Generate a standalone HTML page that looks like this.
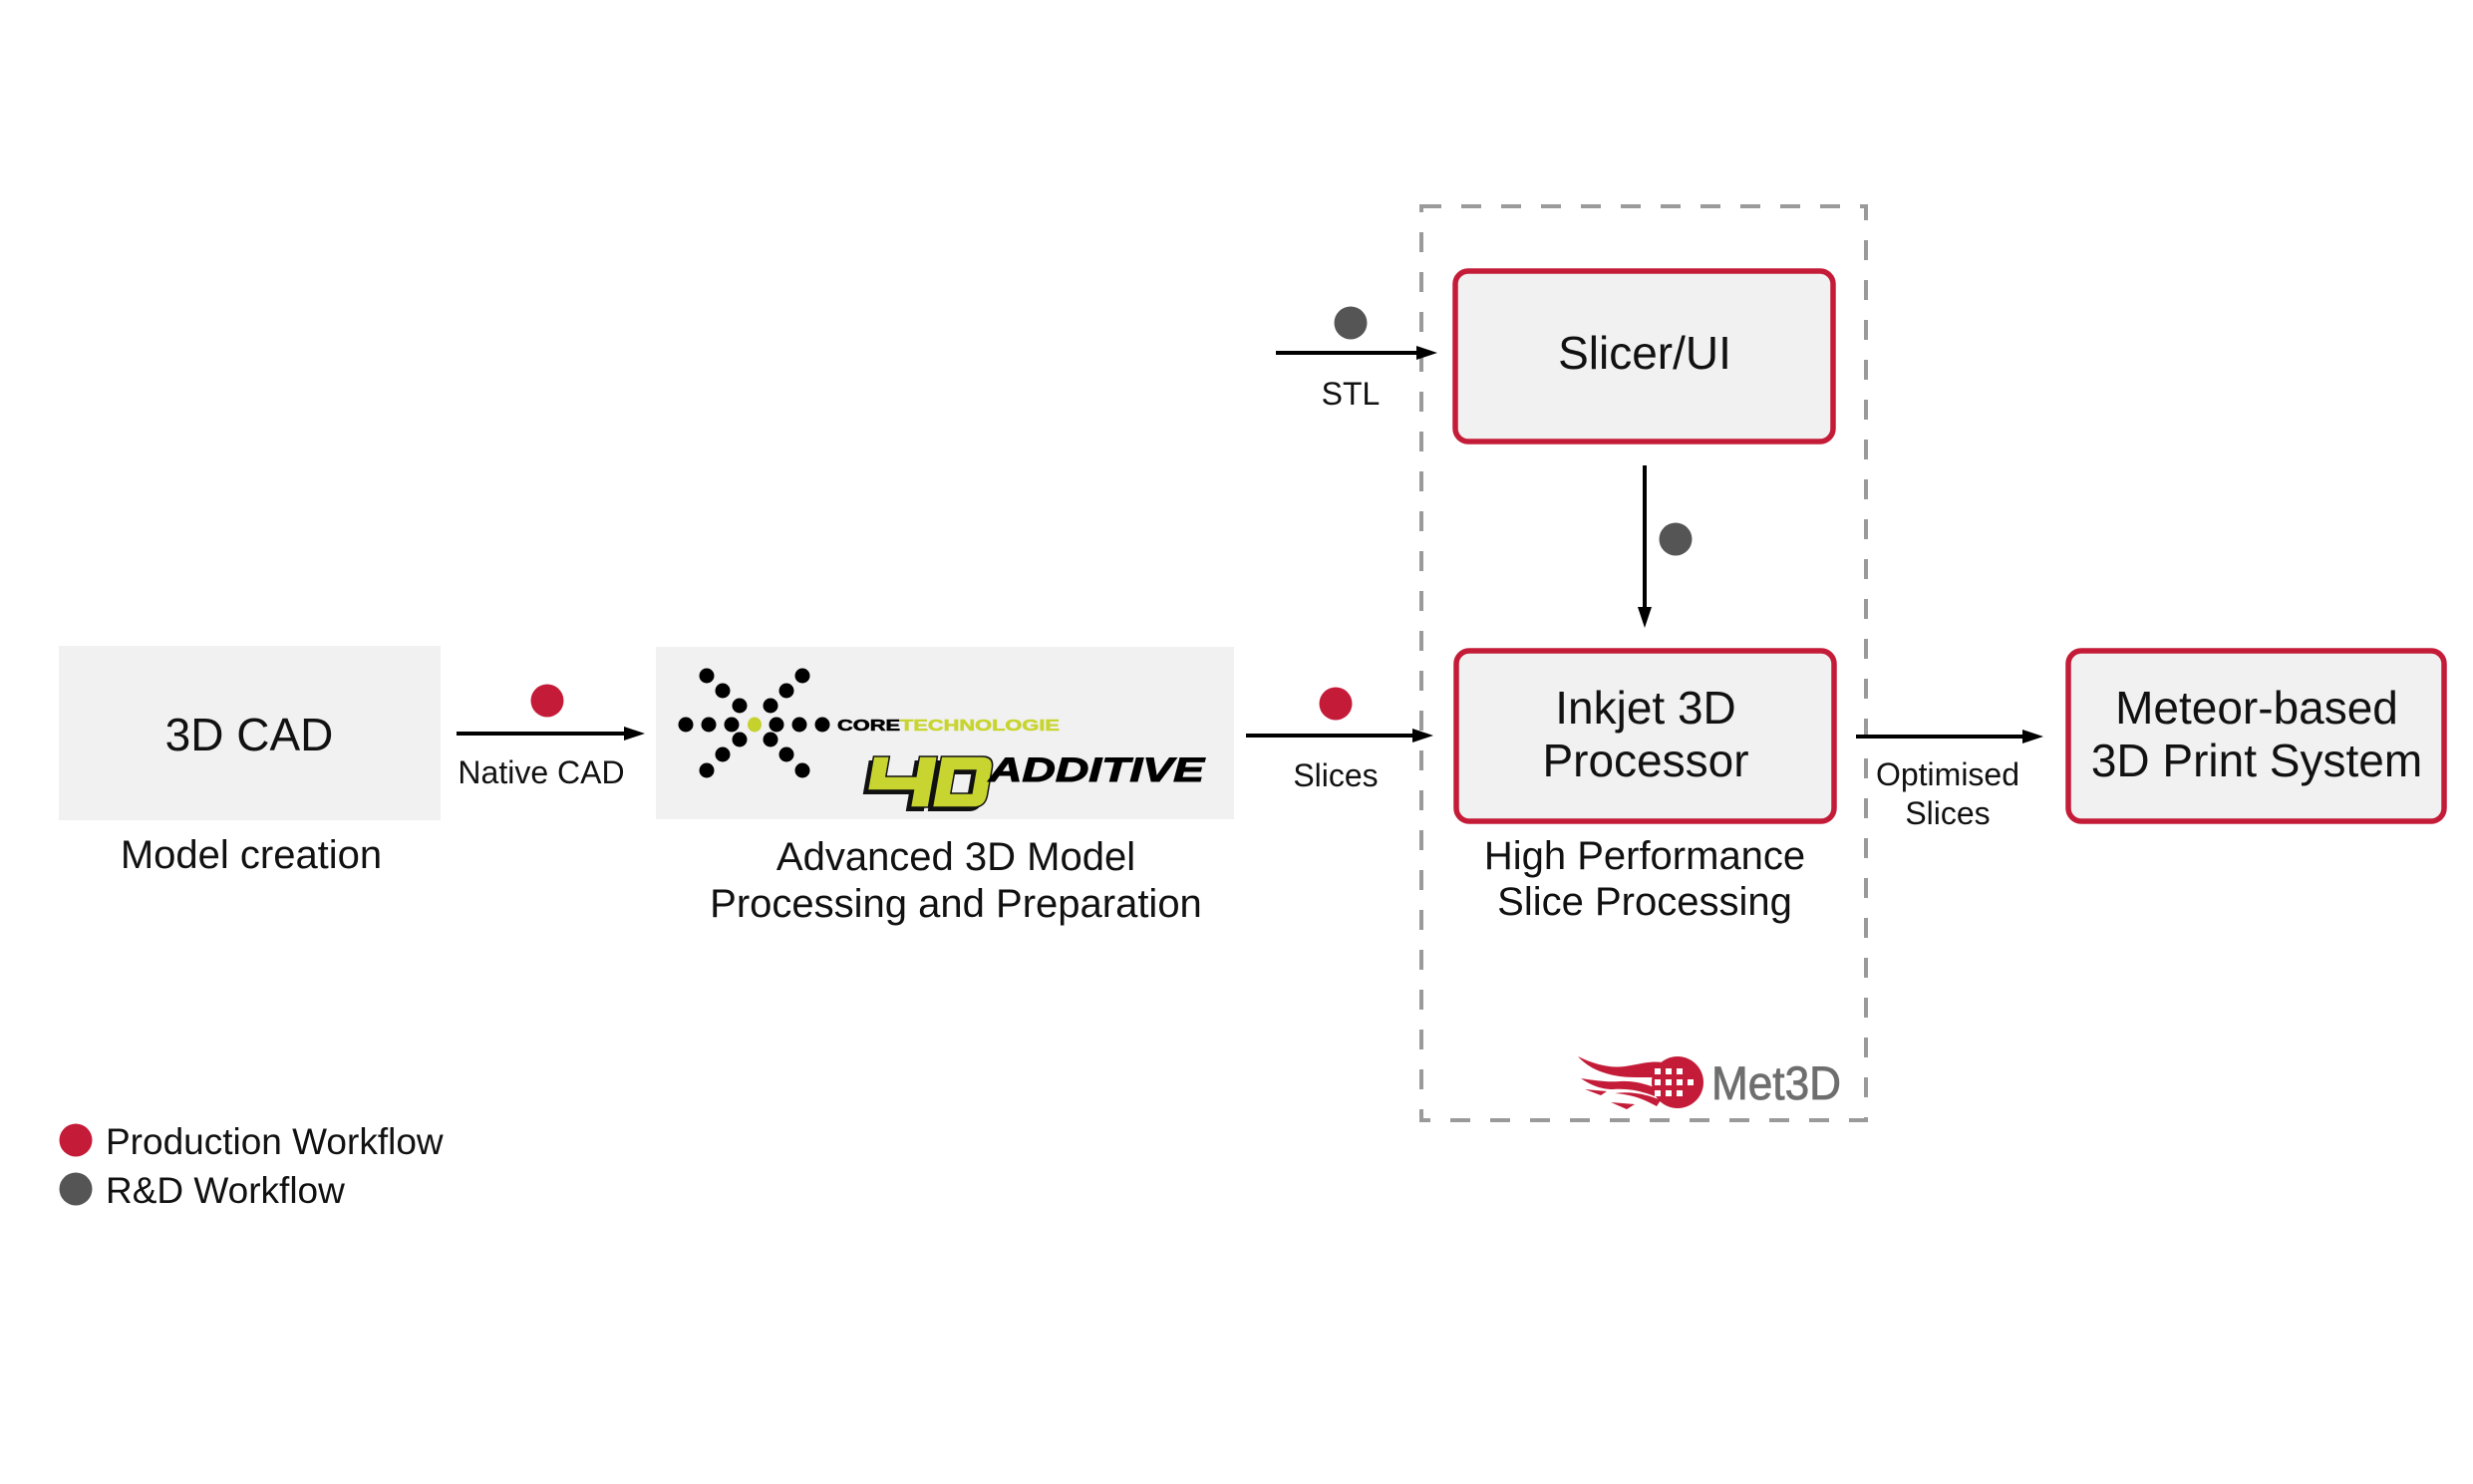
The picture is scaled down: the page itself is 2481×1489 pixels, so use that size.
<!DOCTYPE html>
<html>
<head>
<meta charset="utf-8">
<style>
  html, body { margin: 0; padding: 0; background: #ffffff; }
  svg { display: block; }
  text { font-family: "Liberation Sans", Arial, sans-serif; }
</style>
</head>
<body>
<svg width="2481" height="1489" viewBox="0 0 2481 1489" xmlns="http://www.w3.org/2000/svg">
  <rect x="0" y="0" width="2481" height="1489" fill="#ffffff"/>

  <!-- 3D CAD -->
  <rect x="59" y="648" width="383" height="175" fill="#f1f1f1"/>
  <text x="250" y="753" font-size="46" text-anchor="middle" fill="#111">3D CAD</text>
  <text x="252" y="871" font-size="40" text-anchor="middle" fill="#111">Model creation</text>

  <!-- Native CAD arrow -->
  <line x1="458" y1="736" x2="628" y2="736" stroke="#000" stroke-width="4"/>
  <polygon points="647,736 626,729 626,743" fill="#000"/>
  <circle cx="549" cy="703" r="16.5" fill="#c41c38"/>
  <text x="543" y="786" font-size="32" text-anchor="middle" fill="#111">Native CAD</text>

  <!-- 4D Additive box -->
  <rect x="658" y="649" width="580" height="173" fill="#f1f1f1"/>
  <g fill="#000">
    <circle cx="688" cy="727" r="7.5"/>
    <circle cx="711" cy="727" r="7.5"/>
    <circle cx="734" cy="727" r="7.5"/>
    <ellipse cx="757" cy="727" rx="7" ry="7.5" fill="#c5d22e"/>
    <circle cx="779" cy="727" r="7.5"/>
    <circle cx="802" cy="727" r="7.5"/>
    <circle cx="825" cy="727" r="7.5"/>
    <circle cx="709" cy="678" r="7.5"/>
    <circle cx="725" cy="693" r="7.5"/>
    <circle cx="742" cy="708" r="7.5"/>
    <circle cx="805" cy="678" r="7.5"/>
    <circle cx="789" cy="693" r="7.5"/>
    <circle cx="773" cy="708" r="7.5"/>
    <circle cx="742" cy="742" r="7.5"/>
    <circle cx="725" cy="757" r="7.5"/>
    <circle cx="709" cy="773" r="7.5"/>
    <circle cx="773" cy="742" r="7.5"/>
    <circle cx="789" cy="757" r="7.5"/>
    <circle cx="805" cy="773" r="7.5"/>
  </g>
  <text x="840" y="733" font-size="16" font-weight="bold" textLength="223" lengthAdjust="spacingAndGlyphs" fill="#000" stroke="#000" stroke-width="0.6">CORE<tspan fill="#c8d530" stroke="#c8d530">TECHNOLOGIE</tspan></text>

  <!-- 4D blocky letters -->
  <g transform="matrix(1 0 -0.176 1 134 0)">
    <g transform="translate(-4,4)" fill="#111">
      <polygon points="876,759 892,759 892,779 922,779 922,759 940,759 940,810 922,810 922,793 876,793"/>
      <path fill-rule="evenodd" d="M944,759 H985 Q997,759 997,771 V798 Q997,810 985,810 H944 Z M960,773 V796 H981 V773 Z"/>
    </g>
    <g fill="#c8d530" stroke="#111" stroke-width="1.5">
      <polygon points="876,759 892,759 892,779 922,779 922,759 940,759 940,810 922,810 922,793 876,793"/>
      <path fill-rule="evenodd" d="M944,759 H985 Q997,759 997,771 V798 Q997,810 985,810 H944 Z M960,773 V796 H981 V773 Z"/>
    </g>
  </g>
  <text x="992" y="784" font-size="34" font-weight="bold" font-style="italic" textLength="216" lengthAdjust="spacingAndGlyphs" fill="#000" stroke="#000" stroke-width="1">ADDITIVE</text>

  <text x="959" y="873" font-size="40" text-anchor="middle" fill="#111">Advanced 3D Model</text>
  <text x="959" y="920" font-size="40" text-anchor="middle" fill="#111">Processing and Preparation</text>

  <!-- Slices arrow -->
  <line x1="1250" y1="738" x2="1418" y2="738" stroke="#000" stroke-width="4"/>
  <polygon points="1438,738 1417,731 1417,745" fill="#000"/>
  <circle cx="1340" cy="706" r="16.5" fill="#c41c38"/>
  <text x="1340" y="789" font-size="32" text-anchor="middle" fill="#111">Slices</text>

  <!-- Dashed Met3D container -->
  <rect x="1426" y="207" width="446" height="917" fill="none" stroke="#9a9a9a" stroke-width="4" stroke-dasharray="20,20"/>

  <!-- Slicer/UI -->
  <rect x="1460" y="272" width="379" height="171" rx="13" ry="13" fill="#f1f1f1" stroke="#c41c38" stroke-width="5.5"/>
  <text x="1650" y="370" font-size="46" text-anchor="middle" fill="#111">Slicer/UI</text>

  <!-- STL arrow -->
  <line x1="1280" y1="354" x2="1422" y2="354" stroke="#000" stroke-width="4"/>
  <polygon points="1442,354 1421,347 1421,361" fill="#000"/>
  <circle cx="1355" cy="324" r="16.5" fill="#555555"/>
  <text x="1355" y="406" font-size="32" text-anchor="middle" fill="#111">STL</text>

  <!-- vertical arrow -->
  <line x1="1650" y1="467" x2="1650" y2="610" stroke="#000" stroke-width="4"/>
  <polygon points="1650,630 1643,609 1657,609" fill="#000"/>
  <circle cx="1681" cy="541" r="16.5" fill="#555555"/>

  <!-- Inkjet 3D Processor -->
  <rect x="1461" y="653" width="379" height="171" rx="13" ry="13" fill="#f1f1f1" stroke="#c41c38" stroke-width="5.5"/>
  <text x="1651" y="726" font-size="46" text-anchor="middle" fill="#111">Inkjet 3D</text>
  <text x="1651" y="779" font-size="46" text-anchor="middle" fill="#111">Processor</text>
  <text x="1650" y="872" font-size="40" text-anchor="middle" fill="#111">High Performance</text>
  <text x="1650" y="918" font-size="40" text-anchor="middle" fill="#111">Slice Processing</text>

  <!-- Optimised Slices arrow -->
  <line x1="1862" y1="739" x2="2030" y2="739" stroke="#000" stroke-width="4"/>
  <polygon points="2050,739 2029,732 2029,746" fill="#000"/>
  <text x="1954" y="788" font-size="32" text-anchor="middle" fill="#111">Optimised</text>
  <text x="1954" y="827" font-size="32" text-anchor="middle" fill="#111">Slices</text>

  <!-- Meteor-based 3D Print System -->
  <rect x="2075" y="653" width="377" height="171" rx="13" ry="13" fill="#f1f1f1" stroke="#c41c38" stroke-width="5.5"/>
  <text x="2264" y="726" font-size="46" text-anchor="middle" fill="#111">Meteor-based</text>
  <text x="2264" y="779" font-size="46" text-anchor="middle" fill="#111">3D Print System</text>

  <!-- Met3D logo -->
  <g fill="#c41c38">
    <circle cx="1683" cy="1086" r="26"/>
    <path d="M1583,1060 C1600,1068 1615,1072 1630,1070 C1645,1068 1655,1064 1668,1066 L1672,1082 C1655,1080 1640,1082 1625,1080 C1605,1077 1592,1070 1583,1060 Z"/>
    <path d="M1586,1082 C1600,1084 1612,1086 1625,1085 C1640,1084 1652,1088 1662,1092 L1660,1100 C1645,1094 1632,1092 1618,1093 C1605,1093 1595,1088 1586,1082 Z"/>
    <path d="M1590,1093 L1612,1095 L1606,1099 Z"/>
    <path d="M1620,1097 C1635,1098 1648,1102 1662,1110 L1666,1104 C1650,1097 1635,1095 1620,1097 Z"/>
    <path d="M1616,1106 L1640,1108 L1632,1113 Z"/>
  </g>
  <g fill="#ffffff">
    <rect x="1660" y="1072" width="6" height="6"/>
    <rect x="1671" y="1072" width="6" height="6"/>
    <rect x="1682" y="1072" width="6" height="6"/>
    <rect x="1660" y="1083" width="6" height="6"/>
    <rect x="1671" y="1083" width="6" height="6"/>
    <rect x="1682" y="1083" width="6" height="6"/>
    <rect x="1693" y="1083" width="6" height="6"/>
    <rect x="1660" y="1094" width="6" height="6"/>
    <rect x="1671" y="1094" width="6" height="6"/>
    <rect x="1682" y="1094" width="6" height="6"/>
  </g>
  <text x="1717" y="1103" font-size="47" textLength="130" lengthAdjust="spacingAndGlyphs" fill="#6e6e6e" stroke="#6e6e6e" stroke-width="0.8">Met3D</text>

  <!-- Legend -->
  <circle cx="76" cy="1144" r="16.5" fill="#c41c38"/>
  <text x="106" y="1158" font-size="37" fill="#111">Production Workflow</text>
  <circle cx="76" cy="1193" r="16.5" fill="#555555"/>
  <text x="106" y="1207" font-size="37" fill="#111">R&amp;D Workflow</text>
</svg>
</body>
</html>
